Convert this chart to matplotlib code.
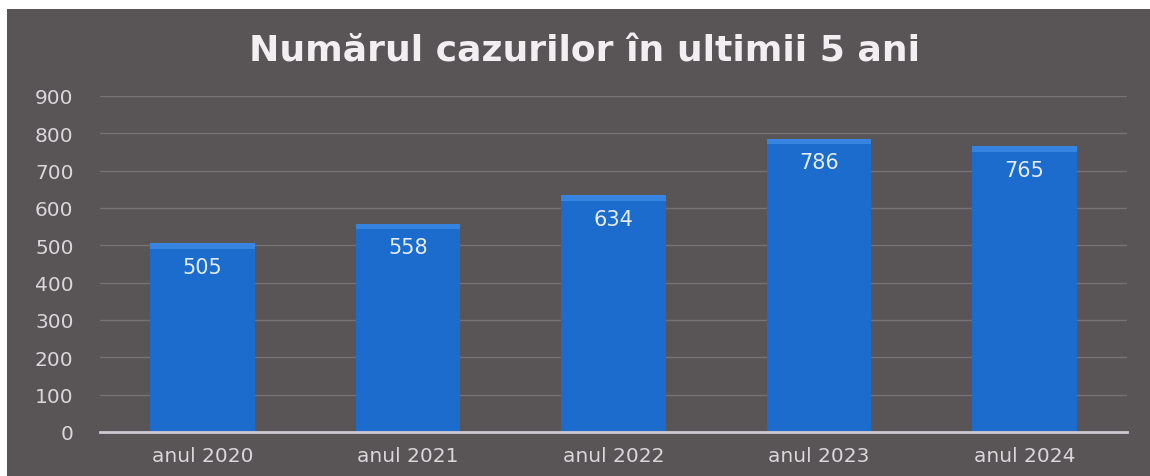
import matplotlib
matplotlib.use("Agg")
import matplotlib.pyplot as plt
import numpy as np
from matplotlib.patches import Rectangle

# chart data
years = ["anul 2020", "anul 2021", "anul 2022", "anul 2023", "anul 2024"]
cases = [505, 558, 634, 786, 765]
yticks = [0, 100, 200, 300, 400, 500, 600, 700, 800, 900]

bg = "#595456"
bar_col = "#1b6ccd"
bevel_col = "#3585e0"
text_col = "#dcd6dc"

fig = plt.figure(figsize=(11.5, 4.77), dpi=100, facecolor="white")
# dark panel (scan leaves a white strip on top and left)
fig.patches.append(Rectangle((7 / 1150, 0), 1, 1 - 10 / 477,
                             transform=fig.transFigure, facecolor=bg,
                             edgecolor="none", zorder=-10))

ax = fig.add_axes([100 / 1150, 1 - 433 / 477, 1027 / 1150, 336 / 477])
ax.set_facecolor("none")

x = np.arange(len(years))
ax.bar(x, cases, width=0.51, color=bar_col, zorder=3)
# lighter bevel at the top of each bar
ax.bar(x, [15] * len(cases), bottom=np.array(cases) - 15, width=0.51,
       color=bevel_col, zorder=4)

for xi, v in zip(x, cases):
    ax.annotate(str(v), (xi, v), xytext=(0, -17), textcoords="offset points",
                ha="center", va="center", color="#e6ecf4",
                fontsize=15, family="DejaVu Sans", zorder=5)

ax.set_xlim(-0.5, len(years) - 0.5)
ax.set_ylim(0, 900)
ax.set_yticks(yticks)
ax.set_xticks(x)
ax.set_xticklabels(years)
ax.tick_params(length=0, colors=text_col, labelsize=14.5)
ax.tick_params(axis="y", pad=19)
ax.tick_params(axis="x", pad=10)
for lab in ax.get_xticklabels() + ax.get_yticklabels():
    lab.set_family("DejaVu Sans")

ax.grid(axis="y", color="#777074", linewidth=1, zorder=1)
for s in ["top", "right", "left"]:
    ax.spines[s].set_visible(False)
ax.spines["bottom"].set_color("#cfc8d0")
ax.spines["bottom"].set_linewidth(2)
ax.spines["bottom"].set_zorder(6)

fig.text(0.508, 1 - 62 / 477, "Numărul cazurilor în ultimii 5 ani",
         ha="center", va="baseline", color="#f2eef2", fontsize=26,
         fontweight="bold", family="DejaVu Sans")

fig.savefig("out.png", dpi=100, facecolor=fig.get_facecolor())
